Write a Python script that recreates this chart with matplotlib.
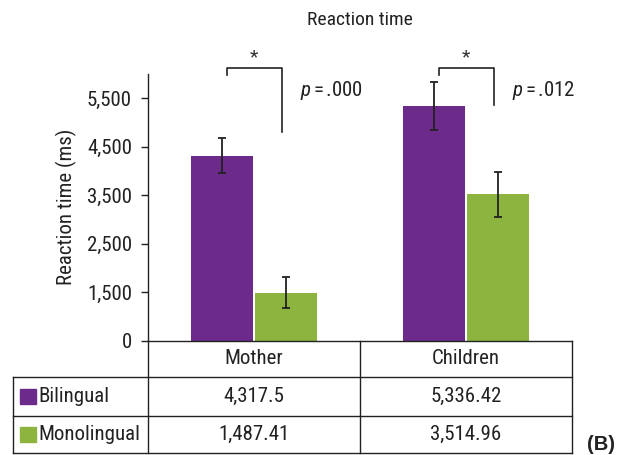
import matplotlib
matplotlib.use("Agg")
import matplotlib.pyplot as plt
from matplotlib.lines import Line2D
from matplotlib.patches import Rectangle
import numpy as np

FONT = ['Roboto Condensed', 'DejaVu Sans']
plt.rcParams['font.family'] = FONT
plt.rcParams['mathtext.fontset'] = 'custom'
plt.rcParams['mathtext.it'] = 'Roboto Condensed:italic'
plt.rcParams['mathtext.rm'] = 'Roboto Condensed'

categories = ["Mother", "Children"]
series = ["Bilingual", "Monolingual"]
bilingual = [4317.5, 5336.42]
monolingual = [1487.41, 3514.96]
bilingual_err = [360, 490]
monolingual_err = [320, 470]
bilingual_labels = ["4,317.5", "5,336.42"]
monolingual_labels = ["1,487.41", "3,514.96"]
yticks = [500, 1500, 2500, 3500, 4500, 5500]
ytick_labels = ["0", "1,500", "2,500", "3,500", "4,500", "5,500"]
pvalues = [".000", ".012"]

purple = '#6c2b8b'
green = '#8db43e'
lc = '#222222'
tc = '#222222'
FS = 15

W, H = 626, 455
fig = plt.figure(figsize=(W / 100, H / 100), dpi=100)

def fx(px):
    return px / W

def fy(py):
    return 1 - py / H

ax_l, ax_r, ax_t, ax_b = 148, 572, 74, 340.5
ax = fig.add_axes([fx(ax_l), fy(ax_b), fx(ax_r) - fx(ax_l), fy(ax_t) - fy(ax_b)])
ax.set_xlim(-0.5, 1.5)
ax.set_ylim(500, 6000)

x = np.arange(len(categories))
bw = 0.288
off = 0.151
ax.bar(x - off, bilingual, bw, color=purple, zorder=2)
ax.bar(x + off, monolingual, bw, color=green, zorder=2)
ax.errorbar(x - off, bilingual, yerr=bilingual_err, fmt='none', ecolor=lc,
            elinewidth=1.3, capsize=3, capthick=1.3, zorder=3)
ax.errorbar(x + off, monolingual, yerr=monolingual_err, fmt='none', ecolor=lc,
            elinewidth=1.3, capsize=3, capthick=1.3, zorder=3)

for s in ['top', 'right', 'bottom']:
    ax.spines[s].set_visible(False)
ax.spines['left'].set_color(lc)
ax.spines['left'].set_linewidth(1.0)
ax.set_xticks([])
ax.set_yticks(yticks)
ax.set_yticklabels(ytick_labels)
ax.tick_params(axis='y', length=5, width=1.0, color=lc, pad=6.5,
               labelsize=FS, labelcolor=tc)
ax.set_ylabel("Reaction time (ms)", fontsize=FS, color=tc, labelpad=7)

# significance brackets
top_y = 6125
for i, (rb, pv) in enumerate(zip([4799, 5356], pvalues)):
    xl, xr = i - 0.129, i + 0.131
    ax.plot([xl, xl, xr, xr], [5974, top_y, top_y, rb], color=lc, lw=1.2,
            clip_on=False, zorder=4)
    ax.text(i, 6350, "*", ha='center', va='center', fontsize=14, color='#333333')
    ax.text(i + 0.215, 5650, r"$p\,$=$\,$" + pv, ha='left', va='center',
            fontsize=FS, color=tc)

fig.text(fx(360), fy(20), "Reaction time", ha='center', va='center',
         fontsize=14, color=tc)

# table
def hline(y, x0, x1):
    fig.add_artist(Line2D([fx(x0), fx(x1)], [fy(y), fy(y)], color=lc, lw=1.0))

def vline(xp, y0, y1):
    fig.add_artist(Line2D([fx(xp), fx(xp)], [fy(y0), fy(y1)], color=lc, lw=1.0))

rows_y = [340.5, 377, 416, 453]
tl = 12.5
hline(rows_y[0], ax_l, ax_r)
for yy in rows_y[1:]:
    hline(yy, tl, ax_r)
vline(tl, rows_y[1], rows_y[3])
vline(ax_l, rows_y[0], rows_y[3])
vline(360, rows_y[0], rows_y[3])
vline(ax_r, rows_y[0], rows_y[3])

centers = [254, 466]
for c, cat in zip(centers, categories):
    fig.text(fx(c), fy((rows_y[0] + rows_y[1]) / 2), cat, ha='center',
             va='center', fontsize=FS, color=tc)

row_data = [bilingual_labels, monolingual_labels]
row_colors = [purple, green]
for r, (name, labels, col) in enumerate(zip(series, row_data, row_colors)):
    yc = (rows_y[r + 1] + rows_y[r + 2]) / 2
    sq = 15.5
    fig.add_artist(Rectangle((fx(20), fy(yc + sq / 2)), fx(sq), sq / H,
                             color=col, transform=fig.transFigure))
    fig.text(fx(38.5), fy(yc), name, ha='left', va='center', fontsize=FS,
             color=tc)
    for c, lab in zip(centers, labels):
        fig.text(fx(c), fy(yc), lab, ha='center', va='center', fontsize=FS,
                 color=tc)

fig.text(fx(601), fy(445), "(B)", ha='center', va='center', fontsize=14.5,
         fontweight='bold', family=['Liberation Sans', 'DejaVu Sans'],
         color=tc)

fig.savefig("out.png", dpi=100)
